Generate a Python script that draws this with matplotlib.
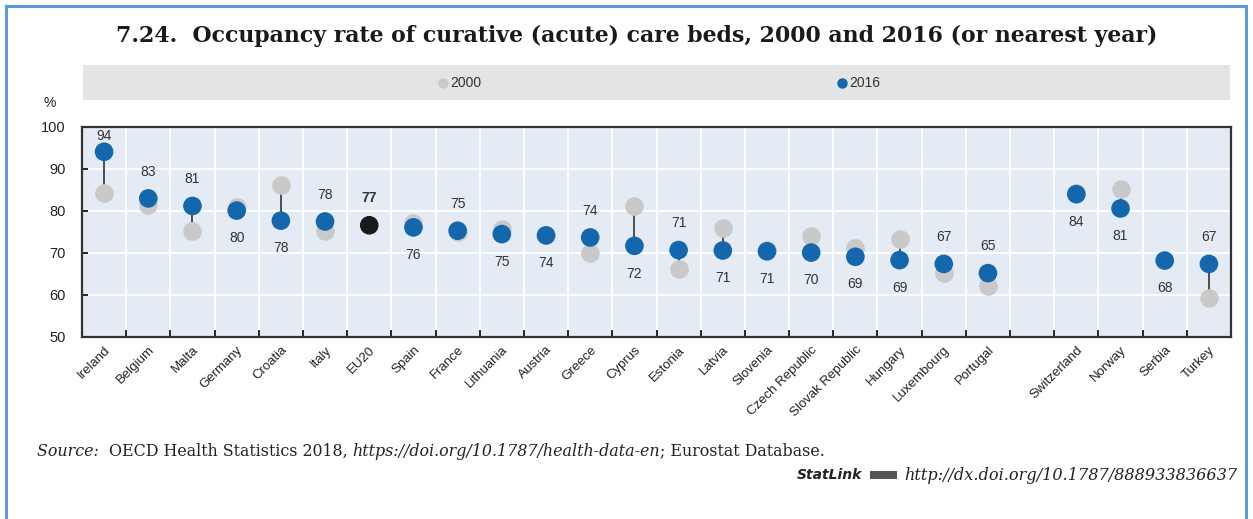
import matplotlib
matplotlib.use("Agg")
import matplotlib.pyplot as plt
import numpy as np
from matplotlib.patches import Rectangle
from matplotlib.lines import Line2D

categories = ["Ireland", "Belgium", "Malta", "Germany", "Croatia", "Italy", "EU20",
              "Spain", "France", "Lithuania", "Austria", "Greece", "Cyprus", "Estonia",
              "Latvia", "Slovenia", "Czech Republic", "Slovak Republic", "Hungary",
              "Luxembourg", "Portugal", "", "Switzerland", "Norway", "Serbia", "Turkey"]
values_2000 = [84.2, 81.4, 75.3, 80.9, 86.2, 75.3, np.nan, 77.2, 75.0, 75.8, 74.4, 70.1,
               81.3, 66.1, 76.0, 70.6, 74.0, 71.1, 73.3, 65.2, 62.1, np.nan, 84.4, 85.2,
               np.nan, 59.2]
values_2016 = [94.1, 83.0, 81.2, 80.1, 77.7, 77.5, 76.6, 76.1, 75.3, 74.5, 74.2, 73.7,
               71.7, 70.7, 70.6, 70.4, 70.1, 69.1, 68.3, 67.4, 65.2, np.nan, 84.0, 80.6,
               68.2, 67.4]
value_labels = ["94", "83", "81", "80", "78", "78", "77", "76", "75", "75", "74", "74",
                "72", "71", "71", "71", "70", "69", "69", "67", "65", "", "84", "81",
                "68", "67"]
highlight = "EU20"

W, H = 1253, 519
fig = plt.figure(figsize=(W / 100, H / 100), dpi=100)
fig.patch.set_facecolor("white")

def fx(px):
    return px / W

def fy(py):
    return 1 - py / H

BLUE = "#1467ad"
GREY = "#c9c9c9"
BG = "#e5ebf4"

# frame
fig.add_artist(Line2D([fx(5.5), fx(5.5)], [fy(519), fy(6)], color="#5b9bd5", lw=2.2))
fig.add_artist(Line2D([fx(5.5), fx(1245.5)], [fy(6), fy(6)], color="#5b9bd5", lw=2.2))
fig.add_artist(Line2D([fx(1245.5), fx(1245.5)], [fy(6), fy(519)], color="#5b9bd5", lw=2.2))

# title
fig.text(fx(637), fy(36), "7.24.  Occupancy rate of curative (acute) care beds, 2000 and 2016 (or nearest year)",
         ha="center", va="center", fontsize=15.8, fontweight="bold", family="DejaVu Serif",
         color="#1a1a1a")

# legend band
fig.add_artist(Rectangle((fx(83), fy(100)), fx(1230) - fx(83), fy(65) - fy(100),
                         transform=fig.transFigure, facecolor="#e2e4e5", edgecolor="none"))
fig.add_artist(Line2D([fx(443)], [fy(83)], marker="o", ms=6.5, color=GREY, lw=0))
fig.text(fx(450), fy(83), "2000", ha="left", va="center", fontsize=10,
         family="Liberation Sans", color="#333333")
fig.add_artist(Line2D([fx(842)], [fy(83)], marker="o", ms=6.5, color=BLUE, lw=0))
fig.text(fx(849), fy(83), "2016", ha="left", va="center", fontsize=10,
         family="Liberation Sans", color="#333333")

ax = fig.add_axes([fx(82), fy(337), fx(1231) - fx(82), fy(127) - fy(337)])
ax.set_facecolor(BG)
n = len(categories)
x = np.arange(n)
ax.set_xlim(-0.5, n - 0.5)
ax.set_ylim(50, 100)
ax.set_yticks([50, 60, 70, 80, 90, 100])
ax.set_yticklabels(["50", "60", "70", "80", "90", "100"], fontsize=10.5,
                   family="Liberation Sans", color="#222222")
ax.set_xticks(x)
ax.set_xticklabels(categories, rotation=45, ha="right", rotation_mode="anchor",
                   fontsize=9.5, family="Liberation Sans", color="#222222")
ax.tick_params(axis="x", length=0, pad=5)
ax.tick_params(axis="y", direction="in", length=4, width=1.2, pad=12)
ax.set_xticks(np.arange(-0.5, n, 1.0), minor=True)
ax.tick_params(axis="x", which="minor", direction="in", length=5, width=1.2)
ax.grid(True, which="minor", axis="x", color="white", lw=1.3)
ax.grid(True, which="major", axis="y", color="white", lw=1.3)
ax.set_axisbelow(True)
for s in ax.spines.values():
    s.set_linewidth(1.6)
    s.set_color("#333333")

v0 = np.array(values_2000, dtype=float)
v1 = np.array(values_2016, dtype=float)
for i in range(n):
    if np.isnan(v1[i]):
        continue
    if not np.isnan(v0[i]):
        ax.plot([x[i], x[i]], [v0[i], v1[i]], color="#4d4d4d", lw=1.4, zorder=2)
ax.scatter(x, v0, s=180, color=GREY, zorder=3, linewidths=0)
cols = ["#1a1a1a" if c == highlight else BLUE for c in categories]
ax.scatter(x, v1, s=180, color=cols, zorder=4, linewidths=0)

for i in range(n):
    if np.isnan(v1[i]):
        continue
    if np.isnan(v0[i]):
        above = categories[i] == highlight
    else:
        above = v0[i] < v1[i]
    if above:
        y = min(v1[i] + 6.4, 97.9)
    else:
        y = v1[i] - 6.6
    ax.text(x[i], y, value_labels[i], ha="center", va="center", fontsize=10,
            family="Liberation Sans", color="#333333",
            fontweight="bold" if categories[i] == highlight else "normal")

fig.text(fx(50), fy(103), "%", ha="center", va="center", fontsize=10,
         family="Liberation Sans", color="#222222")

# source
fig.canvas.draw()
r = fig.canvas.get_renderer()
parts = [("Source:  ", "italic"), ("OECD Health Statistics 2018, ", "normal"),
         ("https://doi.org/10.1787/health-data-en", "italic"),
         ("; Eurostat Database.", "normal")]
xpos = 37
for txt, st in parts:
    tt = fig.text(fx(xpos), fy(451), txt, ha="left", va="center", fontsize=11.4,
                  family="DejaVu Serif", style=st, color="#222222")
    bb = tt.get_window_extent(renderer=r)
    xpos += bb.width

fig.text(fx(1237), fy(475), "http://dx.doi.org/10.1787/888933836637", ha="right",
         va="center", fontsize=11.6, family="DejaVu Serif", style="italic", color="#222222")
fig.text(fx(862), fy(475), "StatLink", ha="right", va="center", fontsize=10,
         family="DejaVu Sans", style="italic", fontweight="bold", color="#222222")
fig.add_artist(Rectangle((fx(870), fy(479)), fx(27), fy(471) - fy(479),
                         transform=fig.transFigure, facecolor="#555555", edgecolor="none"))

fig.savefig("out.png", dpi=100)
